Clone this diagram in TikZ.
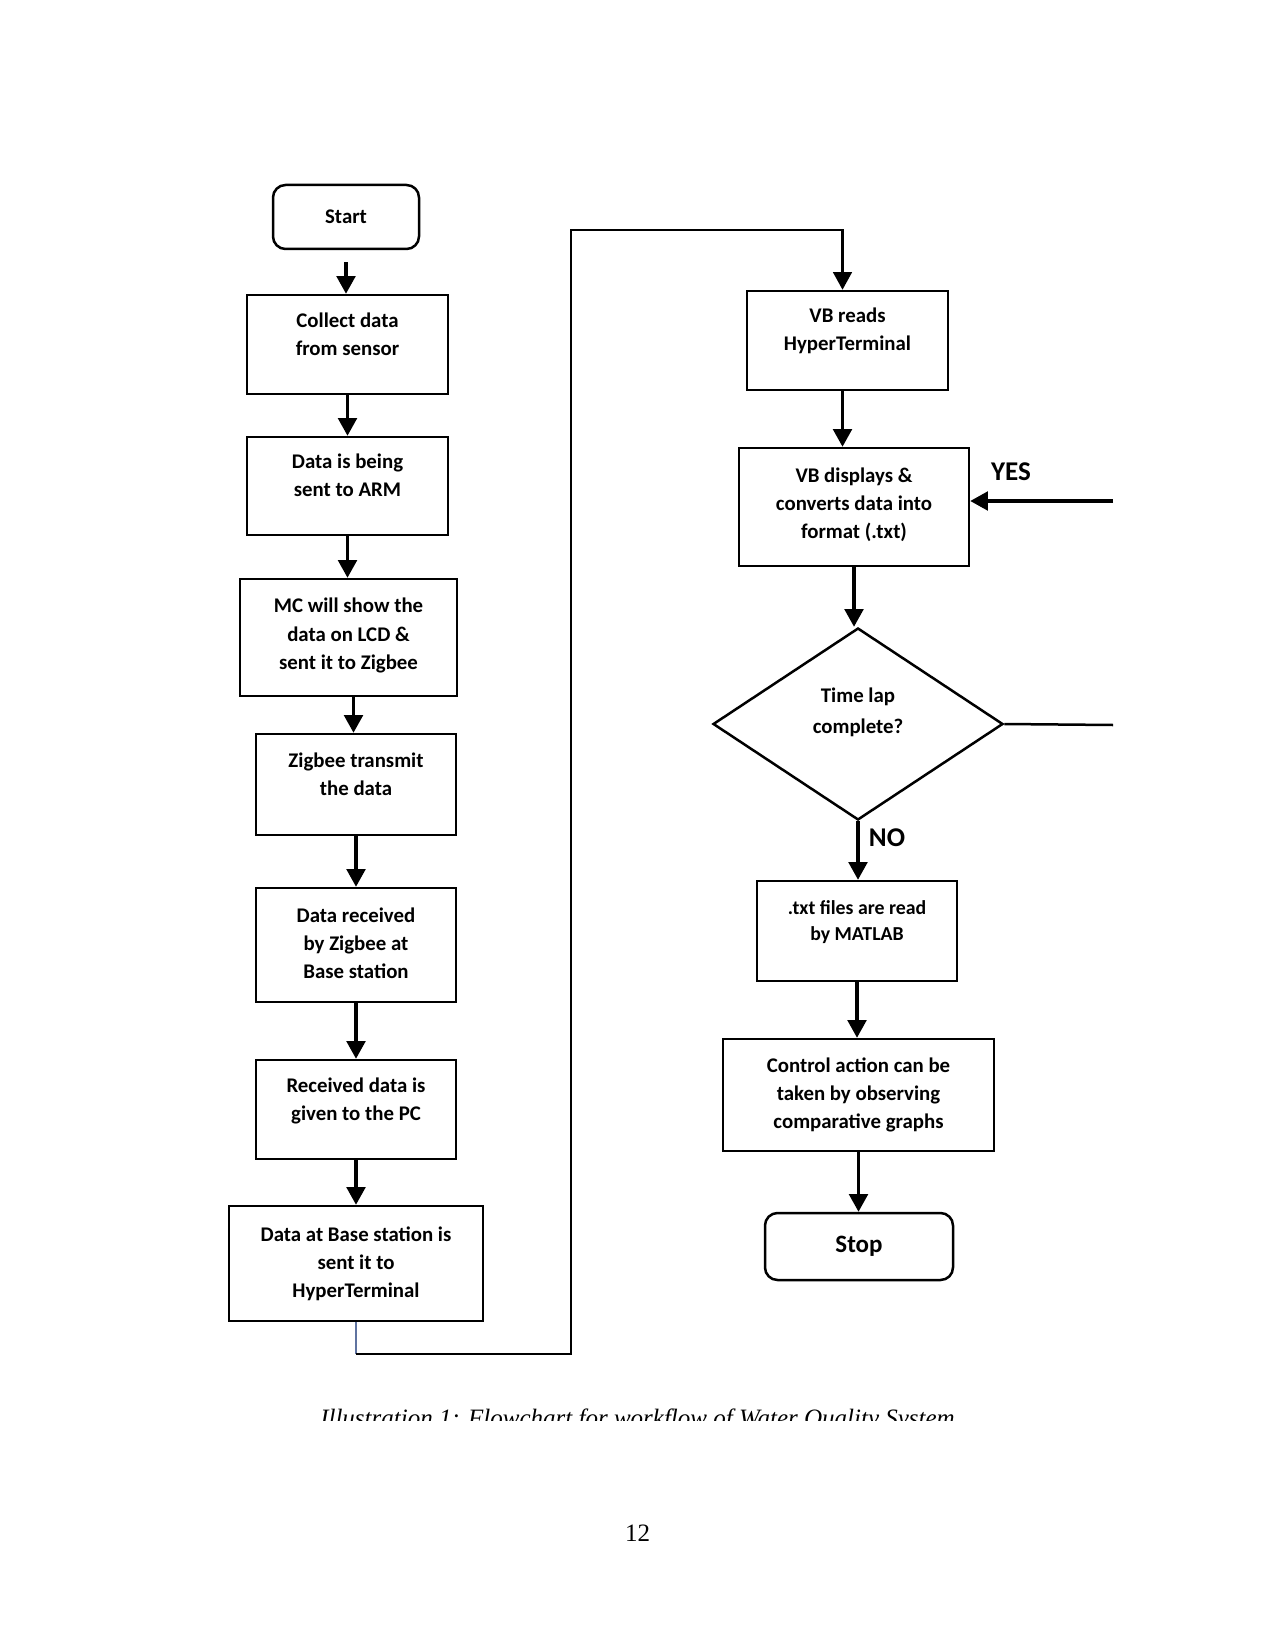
\documentclass[tikz,border=0pt]{standalone}
\usepackage{fontspec}
\setmainfont{Liberation Serif}
\newfontfamily\calib{Carlito}
\usetikzlibrary{arrows.meta,shapes.geometric,calc}
\newcommand\tx[2]{\raisebox{#1}[\height][\depth]{\begin{tabular}{@{}c@{}}#2\end{tabular}}}
\definecolor{loopblue}{RGB}{95,115,160}
\begin{document}
\begin{tikzpicture}[x=0.48pt,y=-0.48pt,
  box/.style={draw, line width=1.2pt, rectangle, inner sep=0pt,
    font=\calib\bfseries\fontsize{10}{13.5}\selectfont},
  sz/.style 2 args={minimum width=#1*0.48pt, minimum height=#2*0.48pt},
  term/.style={box, rounded corners=6pt},
  arr/.style={line width=1.5pt, -{Triangle[width=9pt,length=8.5pt]}},
  lnk/.style={line width=1.2pt},
  lbl/.style={font=\calib\bfseries\fontsize{13}{15}\selectfont, inner sep=0pt}]
\useasboundingbox (0,0) rectangle (1275,1650);
\fill[white] (0,0) rectangle (1275,1650);

% left column
\node[term, sz={146}{64}] (start) at (346,217) {Start};
\node[box, sz={201}{99}] (collect) at (347.5,344.5) {\tx{4.3pt}{Collect data\\from sensor}};
\node[box, sz={201}{98}] (arm) at (347.5,486) {\tx{4.3pt}{Data is being\\sent to ARM}};
\node[box, sz={217}{117}] (mc) at (348.5,637.5) {\tx{1pt}{MC will show the\\data on LCD \&\\sent it to Zigbee}};
\node[box, sz={200}{101}] (zig) at (356,784.5) {\tx{4.3pt}{Zigbee transmit\\the data}};
\node[box, sz={200}{114}] (drec) at (356,945) {\tx{0pt}{Data received\\by Zigbee at\\Base station}};
\node[box, sz={200}{99}] (rec) at (356,1109.5) {\tx{4.3pt}{Received data is\\given to the PC}};
\node[box, sz={254}{115}] (base) at (356,1263.5) {\tx{0pt}{Data at Base station is\\sent it to\\HyperTerminal}};

% right column
\node[box, sz={201}{99}] (vbr) at (847.5,340.5) {\tx{4.5pt}{VB reads\\HyperTerminal}};
\node[box, sz={230}{118}] (vbd) at (854,507) {\tx{1pt}{VB displays \&\\converts data into\\format (.txt)}};
\node[draw, line width=1.2pt, diamond, inner sep=0pt, sz={290}{192},
  font=\calib\bfseries\fontsize{10}{14.5}\selectfont] (dia) at (858,724) {\tx{5.8pt}{Time lap\\complete?}};
\node[box, sz={200}{100}, font=\calib\bfseries\fontsize{9.5}{12.5}\selectfont] (txt) at (857,931) {\tx{4.3pt}{.txt files are read\\by MATLAB}};
\node[box, sz={271}{112}] (ctrl) at (858.5,1095) {\tx{0pt}{Control action can be\\taken by observing\\comparative graphs}};
\node[term, sz={188}{67}, font=\calib\bfseries\fontsize{12}{14}\selectfont] (stop) at (859,1246.5) {Stop};

\node[lbl] (yes) at (1011,472) {YES};
\node[lbl] (no) at (887,838) {NO};

% coordinates
\coordinate (s0) at ($(start.south)+(0,12)$);
\coordinate (mcs) at ($(mc.south)+(5,0)$);
\coordinate (vbrs) at ($(vbr.south)+(-5,0)$);
\coordinate (vbrn) at ($(vbr.north)+(-5,0)$);
\coordinate (lb) at (571,1354);
\coordinate (lt) at (571,230);
\coordinate (yesend) at (1113,501);
\coordinate (noend) at (1113,725);

% arrows left
\draw[arr] (s0) -- (s0 |- collect.north);
\draw[arr] (collect.south) -- (collect.south |- arm.north);
\draw[arr] (arm.south) -- (arm.south |- mc.north);
\draw[arr] (mcs) -- (mcs |- zig.north);
\draw[arr] (zig.south) -- (zig.south |- drec.north);
\draw[arr] (drec.south) -- (drec.south |- rec.north);
\draw[arr] (rec.south) -- (rec.south |- base.north);

% loop
\draw[loopblue, line width=0.8pt] (base.south) -- (base.south |- lb);
\draw[lnk, -{Triangle[width=9pt,length=8.5pt]}] (base.south |- lb) -- (lb) -- (lt) -- (lt -| vbrn) -- (vbrn);

% arrows right
\draw[arr] (vbrs) -- (vbrs |- vbd.north);
\draw[arr] (vbd.south) -- (vbd.south |- dia.north);
\draw[arr] (dia.south) -- (dia.south |- txt.north);
\draw[arr] (txt.south) -- (txt.south |- ctrl.north);
\draw[arr] (ctrl.south) -- (ctrl.south |- stop.north);
\draw[arr] (yesend) -- (vbd.east |- yesend);
\draw[lnk] (dia.east) -- (noend);

% caption (cut off) and page number
\begin{scope}
\clip (0,1380) rectangle (1275,1420);
\node[anchor=base, inner sep=0pt, font=\itshape\fontsize{12}{14}\selectfont] (cap) at (637.5,1426.5) {Illustration 1: Flowchart for workflow of Water Quality System};
\end{scope}
\node[anchor=base, inner sep=0pt, font=\fontsize{12}{14}\selectfont] (pg) at (637.5,1541) {12};
\end{tikzpicture}
\end{document}
